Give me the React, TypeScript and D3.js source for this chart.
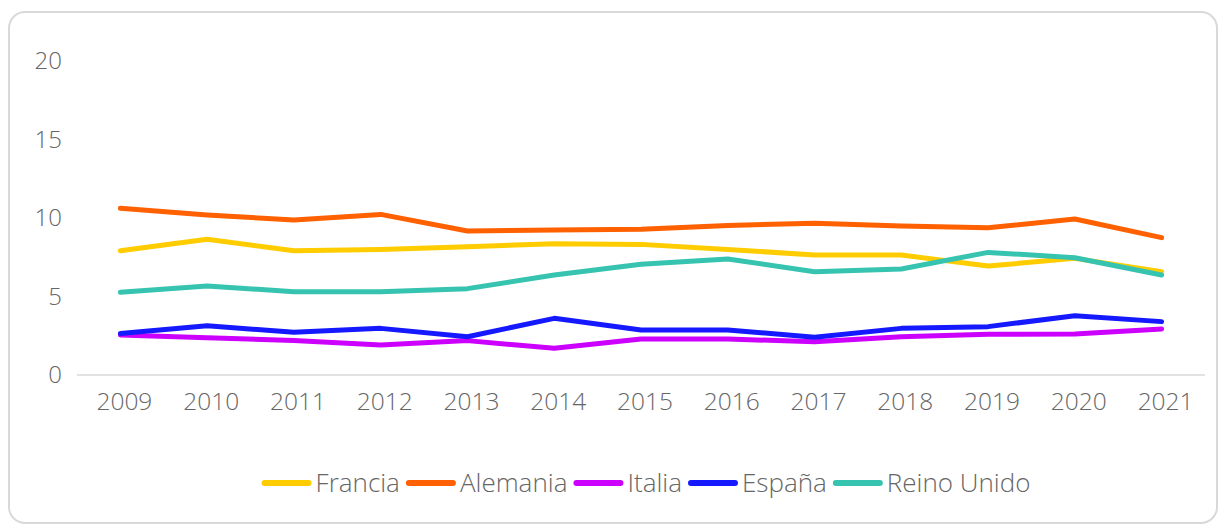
import React, { useEffect, useRef } from 'react';
import * as d3 from 'd3';

const years = ['2009', '2010', '2011', '2012', '2013', '2014', '2015', '2016', '2017', '2018', '2019', '2020', '2021'];
const yTicks = [0, 5, 10, 15, 20];

const francia = [7.92, 8.64, 7.92, 8.0, 8.17, 8.36, 8.32, 8.0, 7.64, 7.64, 6.94, 7.43, 6.58];
const alemania = [10.62, 10.19, 9.87, 10.23, 9.17, 9.24, 9.28, 9.53, 9.66, 9.49, 9.38, 9.94, 8.75];
const italia = [2.55, 2.38, 2.19, 1.91, 2.19, 1.7, 2.29, 2.29, 2.12, 2.44, 2.59, 2.61, 2.93];
const espana = [2.65, 3.14, 2.72, 2.97, 2.44, 3.61, 2.87, 2.87, 2.4, 2.97, 3.08, 3.78, 3.4];
const reinoUnido = [5.27, 5.67, 5.31, 5.31, 5.5, 6.37, 7.05, 7.39, 6.58, 6.75, 7.81, 7.47, 6.37];

const seriesNames = ['Francia', 'Alemania', 'Italia', 'España', 'Reino Unido'];
const seriesColors = ['#FFCC00', '#FF6000', '#CC00FF', '#1419FF', '#36C3B0'];

const W = 1219;
const H = 524;
const FONT = '"Open Sans", "Liberation Sans", sans-serif';

export default function App() {
  const ref = useRef<SVGSVGElement | null>(null);

  useEffect(() => {
    const svg = d3.select(ref.current);
    svg.selectAll('*').remove();

    const data = [francia, alemania, italia, espana, reinoUnido];
    const x = d3.scaleBand<string>().domain(years).range([77, 1205]);
    const y = d3.scaleLinear().domain([0, 20]).range([375, 61]);

    // card
    svg.append('rect')
      .attr('x', 9).attr('y', 12)
      .attr('width', 1208).attr('height', 511)
      .attr('rx', 16)
      .style('fill', '#fff')
      .style('stroke', '#d9d9d9')
      .style('stroke-width', 2);

    // y labels
    svg.append('g')
      .selectAll('text')
      .data(yTicks)
      .enter()
      .append('text')
      .attr('x', 62)
      .attr('y', d => y(d))
      .attr('dy', '0.35em')
      .attr('text-anchor', 'end')
      .style('font-family', FONT)
      .style('font-weight', 300)
      .style('font-size', '24px')
      .style('fill', '#666')
      .text(d => d);

    // x axis line
    svg.append('line')
      .attr('x1', 77).attr('x2', 1205)
      .attr('y1', y(0)).attr('y2', y(0))
      .style('stroke', '#d9d9d9')
      .style('stroke-width', 1.5);

    svg.append('g')
      .selectAll('text')
      .data(years)
      .enter()
      .append('text')
      .attr('x', d => (x(d) as number) + x.bandwidth() / 2 + 4)
      .attr('y', 410)
      .attr('text-anchor', 'middle')
      .style('font-family', FONT)
      .style('font-weight', 300)
      .style('font-size', '24.5px')
      .style('fill', '#666')
      .text(d => d);

    const line = d3.line<number>()
      .x((d, i) => (x(years[i]) as number) + x.bandwidth() / 2)
      .y(d => y(d));

    svg.append('g')
      .selectAll('path')
      .data(data)
      .enter()
      .append('path')
      .attr('d', d => line(d))
      .style('fill', 'none')
      .style('stroke', (d, i) => seriesColors[i])
      .style('stroke-width', 5)
      .style('stroke-linejoin', 'round')
      .style('stroke-linecap', 'round');

    // legend
    const legend = svg.append('g');
    let cx = 0;
    seriesNames.forEach((name, i) => {
      const item = legend.append('g').attr('transform', `translate(${cx},0)`);
      item.append('line')
        .attr('x1', 3).attr('x2', 47)
        .attr('y1', 0).attr('y2', 0)
        .style('stroke', seriesColors[i])
        .style('stroke-width', 6)
        .style('stroke-linecap', 'round');
      const t = item.append('text')
        .attr('x', 54)
        .attr('y', 0)
        .attr('dy', '0.35em')
        .style('font-family', FONT)
        .style('font-weight', 300)
        .style('font-size', '26px')
        .style('fill', '#666')
        .text(name);
      const w = (t.node() as SVGTextElement).getComputedTextLength();
      cx += 54 + w + 6;
    });
    const total = cx - 6;
    legend.attr('transform', `translate(${646 - total / 2},483)`);
  }, []);

  return (
    <svg ref={ref} width={W} height={H} style={{ position: 'absolute', left: 0, top: 0 }} />
  );
}
